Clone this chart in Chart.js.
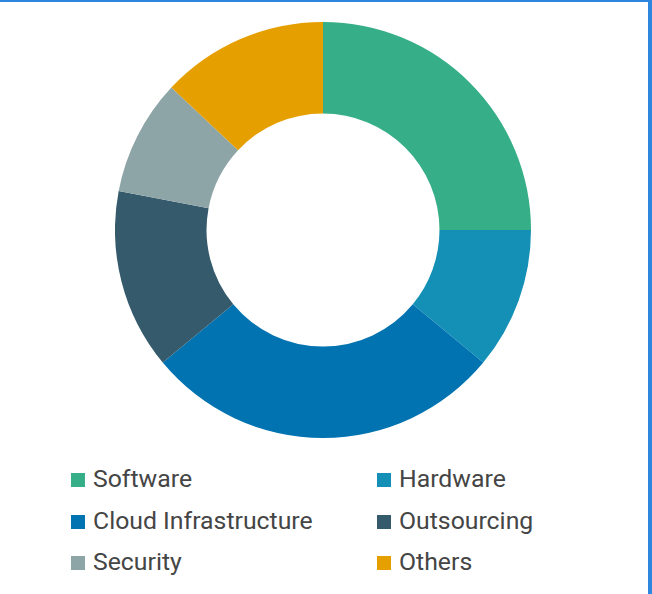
<!DOCTYPE html>
<html>
<head>
<meta charset="utf-8">
<script src="https://cdn.jsdelivr.net/npm/chart.js@4/dist/chart.umd.min.js"></script>
<style>
  html, body { margin: 0; padding: 0; background: #fff; }
  body { width: 652px; height: 594px; position: relative; overflow: hidden; font-family: Roboto, "Noto Sans", sans-serif; }
  .frame-top { position: absolute; left: 0; top: 0; width: 652px; height: 2px; background: #2e86de; }
  .frame-right { position: absolute; left: 648px; top: 0; width: 4px; height: 594px; background: #2e86de; }
  #wrap { position: absolute; left: 115px; top: 22px; width: 416px; height: 416px; }
  #legend { position: absolute; left: 0; top: 0; }
  .item { position: absolute; height: 26px; line-height: 26px; font-size: 24.8px; color: #454545; white-space: nowrap; }
  .item span.box { position: absolute; left: 0; top: 6px; width: 14px; height: 14px; }
  .item span.txt { position: absolute; left: 22px; top: -1px; }
</style>
</head>
<body>
<div class="frame-top"></div>
<div class="frame-right"></div>
<div id="wrap"><canvas id="myChart" width="416" height="416"></canvas></div>
<div id="legend"></div>
<script>
const labels = ['Software', 'Hardware', 'Cloud Infrastructure', 'Outsourcing', 'Security', 'Others'];
const shares = [25, 11, 28, 14, 9, 13];
const colors = ['#36ae87', '#1490b7', '#0273b1', '#345a6b', '#8ea5a8', '#e5a000'];

var ctx = document.getElementById('myChart').getContext('2d');
var chart = new Chart(ctx, {
  type: 'doughnut',
  data: {
    labels: labels,
    datasets: [{
      data: shares,
      backgroundColor: colors,
      borderWidth: 0
    }]
  },
  options: {
    responsive: false,
    animation: false,
    cutout: '56%',
    layout: { padding: 0 },
    plugins: {
      legend: { display: false },
      tooltip: { enabled: false }
    }
  }
});

// two-column legend under the ring
const legend = document.getElementById('legend');
const colX = [71, 377];
const rowY = [467, 509, 550];
legend.innerHTML = labels.map((name, i) => {
  const x = colX[i % 2], y = rowY[Math.floor(i / 2)];
  return `<div class="item" style="left:${x}px;top:${y}px"><span class="box" style="background:${colors[i]}"></span><span class="txt">${name}</span></div>`;
}).join('');
</script>
</body>
</html>
